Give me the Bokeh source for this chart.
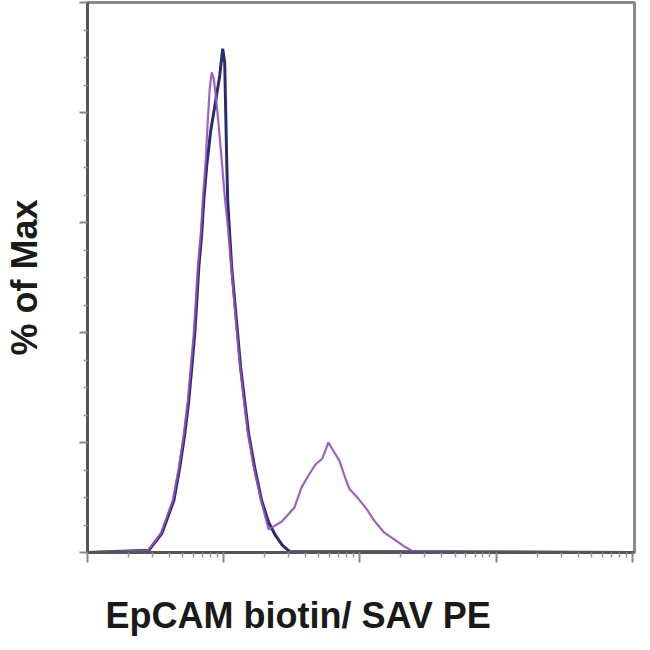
from bokeh.plotting import figure
from bokeh.models import Range1d, FixedTicker, CustomJSTickFormatter, Title
from bokeh.embed import file_html
from bokeh.resources import INLINE

# ---- data ----
blue_x = [1, 2.82, 3.52, 4.31, 4.76, 5.18, 5.54, 5.83, 6.13, 6.35,
          6.56, 6.90, 7.14, 7.51, 8.03, 8.74, 9.35, 9.83, 10.17, 10.34,
          10.52, 10.7, 11.06, 11.45, 12.04, 12.66, 13.32, 14.25, 15.24, 16.87,
          18.97, 21.35, 24.0, 27.0, 30.4, 10000]
blue_y = [0, 0.4, 3.5, 9.5, 15.5, 21.6, 27.6, 33.6, 39.8, 45.8,
          51.8, 58.0, 64.0, 70.4, 76.7, 82.2, 86.7, 91.6, 89.1, 80.4,
          71.3, 64.0, 58.0, 51.8, 45.8, 39.8, 33.6, 27.6, 21.6, 15.5,
          9.5, 5.5, 3.1, 1.3, 0.2, 0]

purple_x = [1, 2.78, 3.46, 4.23, 4.69, 5.10, 5.45, 5.73, 6.03, 6.24,
            6.45, 6.79, 7.02, 7.38, 7.64, 7.90, 8.17, 8.45, 8.74, 9.19,
            9.67, 10.17, 10.7, 11.25, 11.84, 12.45, 13.1, 14.01, 14.99, 16.58,
            18.66, 21.35, 26.6, 33.1, 37.2, 41.9, 47.2, 53.0, 58.7, 63.8,
            70.7, 78.2, 83.6, 97.3, 111.4, 127.4, 150.9, 178.6, 211.4, 246,
            10000]
purple_y = [0, 0.4, 3.5, 9.5, 15.5, 21.6, 27.6, 33.6, 39.8, 45.8,
            51.8, 58.0, 64.0, 71.3, 78.5, 84.4, 87.3, 86.2, 83.1, 77.6,
            71.3, 64.9, 59.5, 53.1, 46.7, 40.4, 34.4, 28.0, 22.0, 15.6,
            9.8, 4.2, 5.6, 8.2, 11.8, 14.0, 16.0, 17.1, 20.0, 18.5,
            16.7, 13.5, 11.6, 9.8, 8.0, 5.8, 3.6, 2.4, 1.1, 0.2,
            0]

x_major_ticks = [1, 10, 100, 1000, 10000]
x_minor_ticks = [m * d for d in [1, 10, 100, 1000] for m in range(2, 10)]
y_major_ticks = [0, 20, 40, 60, 80, 100]
y_minor_ticks = [v for v in range(0, 101, 5) if v % 20 != 0]

x_label = "EpCAM biotin/ SAV PE"
y_label = "% of Max"

p = figure(width=644, height=650, x_axis_type="log",
           x_range=Range1d(1, 10375), y_range=Range1d(0, 100),
           output_backend="svg", toolbar_location=None,
           min_border_left=85, min_border_right=10,
           min_border_top=2, min_border_bottom=98)

p.xgrid.visible = False
p.ygrid.visible = False
p.outline_line_color = "#8a8a8a"
p.outline_line_width = 3

p.line(blue_x, blue_y, line_color="#2b2a72", line_width=3)
p.line(purple_x, purple_y, line_color="#9452b8", line_width=2.2, line_alpha=0.9)

empty = CustomJSTickFormatter(code="return ''")
blank = CustomJSTickFormatter(code="return ' '")

xa = p.xaxis[0]
xa.ticker = FixedTicker(ticks=x_major_ticks, minor_ticks=x_minor_ticks)
xa.formatter = blank
xa.major_label_text_font_size = "10px"
xa.major_label_standoff = 11
xa.axis_line_color = "#555555"
xa.axis_line_width = 3
xa.major_tick_line_color = "#888888"
xa.minor_tick_line_color = "#999999"
xa.major_tick_out = 10
xa.major_tick_in = 0
xa.minor_tick_out = 5
xa.minor_tick_in = 0
xa.major_tick_line_width = 2
xa.minor_tick_line_width = 1.5

xtitle = Title(text=x_label, align="left", offset=18, standoff=10,
               vertical_align="bottom",
               text_font="Liberation Sans", text_font_style="bold",
               text_font_size="36px", text_color="#1a1a1a")
p.add_layout(xtitle, "below")

ya = p.yaxis[0]
ya.ticker = FixedTicker(ticks=y_major_ticks, minor_ticks=y_minor_ticks)
ya.formatter = empty
ya.axis_label = y_label
ya.axis_label_text_font = "Liberation Sans"
ya.axis_label_text_font_style = "bold"
ya.axis_label_text_font_size = "36px"
ya.axis_label_text_color = "#1a1a1a"
ya.axis_label_standoff = 35
ya.axis_line_color = "#555555"
ya.axis_line_width = 3
ya.major_tick_line_color = "#888888"
ya.minor_tick_line_color = "#999999"
ya.major_tick_out = 8
ya.major_tick_in = 0
ya.minor_tick_out = 4
ya.minor_tick_in = 0
ya.major_tick_line_width = 2
ya.minor_tick_line_width = 1.5

open("out.html", "w").write(file_html(p, INLINE))
